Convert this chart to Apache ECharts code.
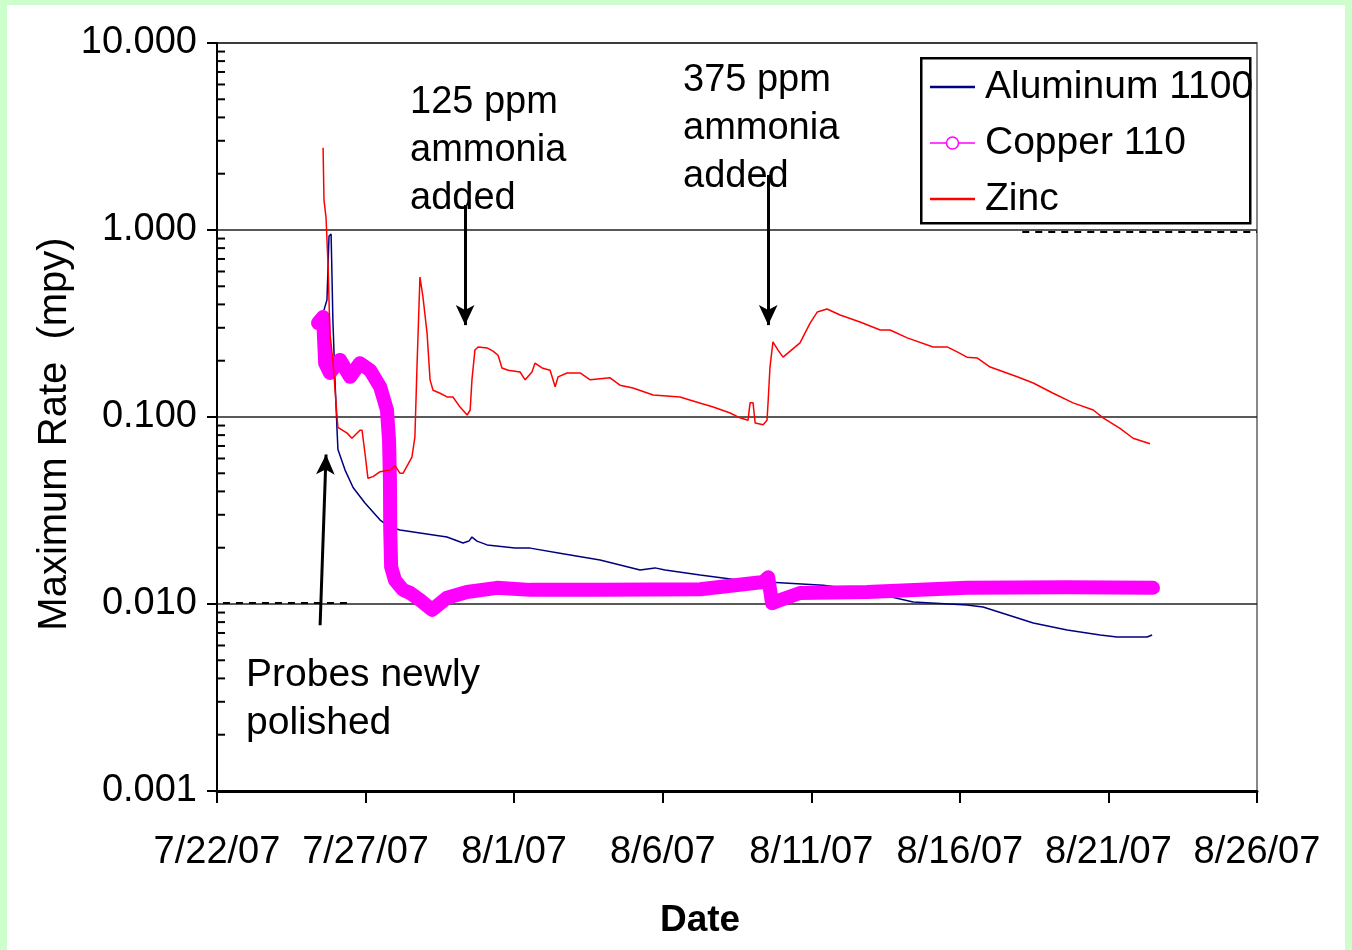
<!DOCTYPE html>
<html>
<head>
<meta charset="utf-8">
<script src="https://cdn.jsdelivr.net/npm/echarts@6/dist/echarts.min.js"></script>
<style>
  html, body { margin: 0; padding: 0; background: #ccffcc; }
  #chart { position: absolute; left: 7px; top: 5px; width: 1338px; height: 945px; background: #fff; }
</style>
</head>
<body>
<div id="chart"></div>
<script>
// days counted from 7/22/07
const START = Date.UTC(2007, 6, 22)
const xTickDays = [0, 5, 10, 15, 20, 25, 30, 35]
const yTickVals = [0.001, 0.01, 0.1, 1, 10]
const seriesNames = ['Aluminum 1100', 'Copper 110', 'Zinc']
const seriesColors = ['#000080', '#ff00ff', '#ff0000']

// Aluminum 1100
const alDays = [3.60, 3.70, 3.77, 3.84, 3.90, 3.97, 4.04, 4.07, 4.31, 4.58, 4.98, 5.49, 5.82, 6.16, 6.83, 7.74,
  8.28, 8.48, 8.58, 8.75, 9.09, 10.03, 10.54, 11.54, 12.89, 14.24, 14.74, 15.08, 16.26, 17.60, 18.95, 20.40,
  21.64, 23.43, 25.24, 25.78, 27.47, 28.61, 29.72, 30.29, 31.30, 31.47]
const alRate = [0.373, 0.422, 0.929, 0.952, 0.330, 0.158, 0.085, 0.067, 0.052, 0.042, 0.0347, 0.0281, 0.0258, 0.0249, 0.0240, 0.0228,
  0.0212, 0.0217, 0.0228, 0.0217, 0.0207, 0.0199, 0.0199, 0.0187, 0.0172, 0.0152, 0.0156, 0.0152, 0.0143, 0.0134, 0.0130, 0.0126,
  0.0119, 0.01025, 0.00988, 0.00964, 0.00791, 0.00726, 0.00683, 0.00666, 0.00666, 0.00683]

// Copper 110
const cuDays = [3.40, 3.57, 3.64, 3.80, 4.14, 4.48, 4.81, 5.15, 5.49, 5.72, 5.79, 5.82, 5.83, 5.86, 5.99, 6.26,
  6.50, 6.83, 7.24, 7.74, 8.41, 9.42, 10.54, 12.89, 16.26, 18.38, 18.55, 18.68, 18.95, 19.62, 21.88, 25.24,
  28.61, 31.50]
const cuRate = [0.318, 0.343, 0.194, 0.172, 0.202, 0.164, 0.194, 0.178, 0.145, 0.109, 0.075, 0.046, 0.025, 0.0158, 0.0134, 0.0119,
  0.01145, 0.0105, 0.0093, 0.0108, 0.0116, 0.0122, 0.0119, 0.0119, 0.0120, 0.0131, 0.0139, 0.0101, 0.0105, 0.01145, 0.0116, 0.0122,
  0.0123, 0.0122]

// Zinc
const znDays = [3.57, 3.60, 3.67, 3.74, 3.80, 3.90, 4.04, 4.07, 4.38, 4.54,
  4.81, 4.88, 4.98, 5.08, 5.25, 5.49, 5.82, 5.99, 6.16, 6.26,
  6.56, 6.66, 6.73, 6.83, 6.93, 7.07, 7.17, 7.27, 7.51, 7.74,
  7.94, 8.18, 8.42, 8.52, 8.58, 8.68, 8.79, 9.09, 9.29, 9.46,
  9.59, 9.80, 10.20, 10.37, 10.60, 10.70, 10.94, 11.21, 11.38, 11.48,
  11.78, 12.22, 12.56, 13.23, 13.56, 14.00, 14.68, 15.58, 16.16, 16.70,
  17.27, 17.60, 17.87, 17.94, 18.04, 18.11, 18.38, 18.51, 18.55, 18.61,
  18.71, 18.88, 19.05, 19.62, 19.96, 20.20, 20.53, 20.97, 21.64, 22.32,
  22.65, 23.23, 24.10, 24.57, 24.91, 25.24, 25.58, 26.02, 26.93, 27.47,
  28.14, 28.81, 29.49, 29.82, 30.39, 30.83, 31.40]
const znRate = [2.75, 1.45, 1.16, 0.63, 0.28, 0.20, 0.100, 0.088, 0.082, 0.077,
  0.085, 0.085, 0.064, 0.047, 0.048, 0.051, 0.052, 0.055, 0.050, 0.050,
  0.061, 0.078, 0.185, 0.56, 0.44, 0.28, 0.158, 0.139, 0.134, 0.128,
  0.128, 0.113, 0.1025, 0.109, 0.158, 0.228, 0.237, 0.234, 0.225, 0.214,
  0.183, 0.178, 0.174, 0.158, 0.174, 0.194, 0.183, 0.178, 0.145, 0.164,
  0.172, 0.172, 0.158, 0.162, 0.148, 0.143, 0.131, 0.128, 0.120, 0.113,
  0.105, 0.099, 0.096, 0.119, 0.119, 0.093, 0.091, 0.096, 0.123, 0.185,
  0.252, 0.228, 0.209, 0.249, 0.318, 0.364, 0.378, 0.351, 0.322, 0.292,
  0.292, 0.265, 0.237, 0.237, 0.223, 0.209, 0.207, 0.185, 0.164, 0.152,
  0.134, 0.119, 0.109, 0.099, 0.087, 0.077, 0.072]

// annotation arrows: [fromDay, fromRate, toDay, toRate]
const arrows = [
  [8.35, 1.36, 8.35, 0.31],
  [18.55, 1.97, 18.55, 0.31],
  [3.47, 0.0077, 3.67, 0.063]
]

const FONT = 'Liberation Sans, Arial, sans-serif'
const pts = (d, r) => d.map((x, i) => [x, r[i]])

function dayLabel(d) {
  const dt = new Date(START + d * 86400000)
  return (dt.getUTCMonth() + 1) + '/' + dt.getUTCDate() + '/' + String(dt.getUTCFullYear()).slice(2)
}

// log minor ticks 2..9 in each decade
const minorTicks = []
for (let k = 0; k < yTickVals.length - 1; k++) {
  for (let m = 2; m <= 9; m++) minorTicks.push([0, +(m * yTickVals[k]).toPrecision(3)])
}

// legend drawn by hand (box clips like the original)
const legendGraphics = [
  { type: 'rect', left: 913, top: 52, z: 1, shape: { width: 329, height: 165 },
    style: { fill: '#fff', stroke: '#000', lineWidth: 2.5 } }
]
seriesNames.forEach(function(name, i) {
  const y = 82 + i * 56
  legendGraphics.push({ type: 'line', z: 11, shape: { x1: 923, y1: y, x2: 968, y2: y },
    style: { stroke: seriesColors[i], lineWidth: i === 1 ? 1.5 : 2.5 } })
  if (i === 1) {
    legendGraphics.push({ type: 'circle', z: 12, shape: { cx: 945.5, cy: y, r: 6 },
      style: { fill: '#fff', stroke: seriesColors[i], lineWidth: 1.5 } })
  }
  legendGraphics.push({ type: 'text', z: 11, x: 978, y: y,
    style: { text: name, font: '39px ' + FONT, fill: '#000', verticalAlign: 'middle' } })
})

const myChart = echarts.init(document.getElementById('chart'))
const option = {
  animation: false,
  backgroundColor: '#fff',
  grid: { left: 210, top: 38, right: 88, bottom: 159, show: true, borderColor: '#888', borderWidth: 2 },
  xAxis: {
    type: 'value', min: 0, max: 35, interval: 5,
    axisLine: { lineStyle: { color: '#000', width: 3 } },
    axisTick: { length: 12, lineStyle: { color: '#000', width: 2 } },
    splitLine: { show: false },
    axisLabel: { margin: 43, fontFamily: FONT, fontSize: 38, color: '#000', formatter: dayLabel }
  },
  yAxis: {
    type: 'log', logBase: 10, min: 0.001, max: 10,
    axisLine: { lineStyle: { color: '#000', width: 2 } },
    axisTick: { length: 10, lineStyle: { color: '#000', width: 2 } },
    splitLine: { lineStyle: { color: '#222', width: 1.5 } },
    axisLabel: { margin: 20, fontFamily: FONT, fontSize: 38, color: '#000', formatter: v => v.toFixed(3) }
  },
  graphic: legendGraphics.concat([
    { type: 'text', x: 48, y: 429, rotation: Math.PI / 2, z: 10,
      style: { text: 'Maximum Rate  (mpy)', font: '40px ' + FONT, fill: '#000', align: 'center', verticalAlign: 'middle' } },
    { type: 'text', left: 403, top: 74, z: 10,
      style: { text: '125 ppm\nammonia\nadded', font: '38px ' + FONT, fill: '#000', lineHeight: 48 } },
    { type: 'text', left: 676, top: 52, z: 10,
      style: { text: '375 ppm\nammonia\nadded', font: '38px ' + FONT, fill: '#000', lineHeight: 48 } },
    { type: 'text', left: 239, top: 646, z: 10,
      style: { text: 'Probes newly\npolished', font: '39px ' + FONT, fill: '#000', lineHeight: 48 } },
    { type: 'text', left: 653, top: 897, z: 10,
      style: { text: 'Date', font: 'bold 37px ' + FONT, fill: '#000' } }
  ]),
  series: [
    {
      name: seriesNames[0], type: 'line', symbol: 'none', z: 3,
      lineStyle: { color: seriesColors[0], width: 1.5 },
      data: pts(alDays, alRate),
      markLine: {
        silent: true, symbol: 'none', label: { show: false },
        lineStyle: { color: '#000', width: 2, type: [7, 6] },
        data: [
          [{ coord: [0.2, 0.0101] }, { coord: [4.5, 0.0101] }],
          [{ coord: [27.1, 0.98] }, { coord: [35, 0.98] }]
        ]
      }
    },
    {
      name: seriesNames[1], type: 'line', symbol: 'none', z: 4,
      lineStyle: { color: seriesColors[1], width: 14, cap: 'round', join: 'round' },
      data: pts(cuDays, cuRate)
    },
    {
      name: seriesNames[2], type: 'line', symbol: 'none', z: 5,
      lineStyle: { color: seriesColors[2], width: 1.5 },
      data: pts(znDays, znRate),
      markLine: {
        silent: true, symbol: ['none', 'arrow'], symbolSize: [14, 20], label: { show: false },
        lineStyle: { color: '#000', width: 3, type: 'solid' },
        data: arrows.map(a => [{ coord: [a[0], a[1]] }, { coord: [a[2], a[3]] }])
      }
    },
    {
      type: 'custom', silent: true, z: 6,
      data: minorTicks,
      renderItem: function(params, api) {
        const p = api.coord([0, api.value(1)])
        return { type: 'line', shape: { x1: p[0], y1: p[1], x2: p[0] + 8, y2: p[1] },
          style: { stroke: '#000', lineWidth: 2 } }
      }
    }
  ]
}
myChart.setOption(option)
</script>
</body>
</html>
